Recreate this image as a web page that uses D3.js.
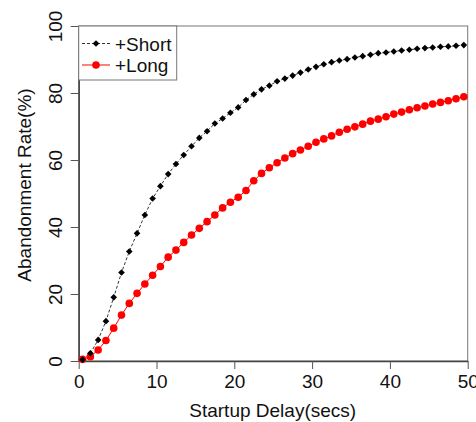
<!DOCTYPE html>
<html>
<head>
<meta charset="utf-8">
<script src="https://cdn.jsdelivr.net/npm/d3@7"></script>
<style>
  html, body { margin: 0; padding: 0; background: #fff; }
  #chart { width: 476px; height: 422px; }
</style>
</head>
<body>
<div id="chart"></div>
<script>
/* startup delay (secs) at which each abandonment rate was measured */
const delays = [
  0.5, 1.5, 2.5, 3.5, 4.5, 5.5, 6.5, 7.5, 8.5, 9.5,
  10.5, 11.5, 12.5, 13.5, 14.5, 15.5, 16.5, 17.5, 18.5, 19.5,
  20.5, 21.5, 22.5, 23.5, 24.5, 25.5, 26.5, 27.5, 28.5, 29.5,
  30.5, 31.5, 32.5, 33.5, 34.5, 35.5, 36.5, 37.5, 38.5, 39.5,
  40.5, 41.5, 42.5, 43.5, 44.5, 45.5, 46.5, 47.5, 48.5, 49.5
];

const shortRate = [
  0.4, 2.3, 6.3, 11.9, 19.0, 26.4, 32.7, 38.1, 43.6, 48.5,
  52.2, 55.8, 58.8, 61.5, 64.1, 66.6, 68.6, 70.9, 72.4, 74.1,
  75.7, 77.9, 79.6, 81.1, 82.2, 83.5, 84.3, 85.2, 86.1, 87.0,
  87.8, 88.6, 89.2, 89.7, 90.1, 90.6, 91.0, 91.4, 91.9, 92.1,
  92.4, 92.7, 92.9, 93.2, 93.4, 93.6, 93.8, 93.9, 94.1, 94.3
];

const longRate = [
  0.5, 1.3, 3.3, 6.1, 9.8, 13.7, 17.2, 20.2, 23.0, 25.6,
  28.2, 31.0, 33.1, 35.4, 37.6, 39.6, 41.6, 43.6, 45.7, 47.4,
  48.9, 50.9, 53.8, 56.0, 57.7, 59.2, 60.6, 61.9, 63.0, 64.1,
  65.3, 66.3, 67.2, 68.3, 69.2, 69.9, 70.7, 71.6, 72.2, 72.9,
  73.7, 74.3, 75.0, 75.6, 76.1, 76.7, 77.2, 77.7, 78.3, 78.9
];

const xTicks = [0, 10, 20, 30, 40, 50];
const yTicks = [0, 20, 40, 60, 80, 100];
const seriesNames = ["+Short", "+Long"];

(function drawChart() {
  const W = 476, H = 422;
  const m = { top: 26, right: 8.3, bottom: 61, left: 78.7 };
  const font = "'Liberation Sans', Arial, sans-serif";

  const svg = d3.select("#chart").append("svg")
    .attr("width", W)
    .attr("height", H)
    .style("font-family", font);

  const x = d3.scaleLinear().domain([0, 50]).range([m.left, W - m.right]);
  const y = d3.scaleLinear().domain([0, 100]).range([H - m.bottom, m.top]);

  /* ── plot box ── */
  svg.append("rect")
    .attr("x", x(0)).attr("y", y(100))
    .attr("width", x(50) - x(0)).attr("height", y(0) - y(100))
    .attr("fill", "none")
    .attr("stroke", "#777")
    .attr("stroke-width", 1);

  /* ── axes (R style: outward ticks, rotated y labels) ── */
  const xAxis = svg.append("g")
    .attr("transform", `translate(0,${y(0)})`)
    .call(d3.axisBottom(x).tickValues(xTicks).tickSize(8).tickSizeOuter(0).tickPadding(6));
  xAxis.select(".domain").attr("stroke", "#444").attr("stroke-width", 1.5);
  xAxis.selectAll(".tick line").attr("stroke", "#555");
  xAxis.selectAll(".tick text")
    .attr("font-size", 19).attr("font-family", font).attr("fill", "#111");

  const yAxis = svg.append("g")
    .attr("transform", `translate(${x(0)},0)`)
    .call(d3.axisLeft(y).tickValues(yTicks).tickSize(8).tickSizeOuter(0).tickPadding(0));
  yAxis.select(".domain").attr("stroke", "#444").attr("stroke-width", 1.5);
  yAxis.selectAll(".tick line").attr("stroke", "#555");
  yAxis.selectAll(".tick text")
    .attr("font-size", 19).attr("font-family", font).attr("fill", "#111")
    .attr("x", null).attr("dy", null)
    .attr("text-anchor", "middle")
    .attr("transform", "translate(-16.5,0) rotate(-90)");

  /* ── axis titles ── */
  svg.append("text")
    .attr("x", (x(0) + x(50)) / 2 - 0.5)
    .attr("y", 417)
    .attr("text-anchor", "middle")
    .attr("font-size", 19)
    .attr("fill", "#111")
    .text("Startup Delay(secs)");

  svg.append("text")
    .attr("transform", `translate(31,185) rotate(-90)`)
    .attr("text-anchor", "middle")
    .attr("font-size", 19)
    .attr("fill", "#111")
    .text("Abandonment Rate(%)");

  /* ── series ── */
  const shortPts = delays.map((d, i) => [d, shortRate[i]]);
  const longPts = delays.map((d, i) => [d, longRate[i]]);
  const line = d3.line().x(d => x(d[0])).y(d => y(d[1]));
  const diamond = d3.symbol().type(d3.symbolDiamond2).size(28);

  svg.append("path")
    .datum(longPts)
    .attr("d", line)
    .attr("fill", "none")
    .attr("stroke", "red")
    .attr("stroke-width", 1);

  svg.append("path")
    .datum(shortPts)
    .attr("d", line)
    .attr("fill", "none")
    .attr("stroke", "#333")
    .attr("stroke-width", 1)
    .attr("stroke-dasharray", "3,2");

  svg.selectAll("circle.long")
    .data(longPts)
    .enter().append("circle")
    .attr("class", "long")
    .attr("cx", d => x(d[0]))
    .attr("cy", d => y(d[1]))
    .attr("r", 3.8)
    .attr("fill", "red");

  svg.selectAll("path.short")
    .data(shortPts)
    .enter().append("path")
    .attr("class", "short")
    .attr("d", diamond)
    .attr("transform", d => `translate(${x(d[0])},${y(d[1])})`)
    .attr("fill", "#000");

  /* ── legend ── */
  const lg = svg.append("g");
  lg.append("rect")
    .attr("x", x(0)).attr("y", y(100))
    .attr("width", 98).attr("height", 54)
    .attr("fill", "#fff")
    .attr("stroke", "#777")
    .attr("stroke-width", 1);

  const rows = [
    { name: seriesNames[0], y: 43.5, color: "#333", dash: "3,2" },
    { name: seriesNames[1], y: 65, color: "red", dash: null }
  ];
  rows.forEach((r, i) => {
    lg.append("line")
      .attr("x1", 82).attr("x2", 110)
      .attr("y1", r.y).attr("y2", r.y)
      .attr("stroke", r.color)
      .attr("stroke-width", 1)
      .attr("stroke-dasharray", r.dash);
    if (i === 0) {
      lg.append("path")
        .attr("d", diamond)
        .attr("transform", `translate(96,${r.y})`)
        .attr("fill", "#000");
    } else {
      lg.append("circle")
        .attr("cx", 96).attr("cy", r.y).attr("r", 3.8)
        .attr("fill", "red");
    }
    lg.append("text")
      .attr("x", 115)
      .attr("y", r.y + 7)
      .attr("font-size", 19)
      .attr("fill", "#111")
      .text(r.name);
  });
})();
</script>
</body>
</html>
